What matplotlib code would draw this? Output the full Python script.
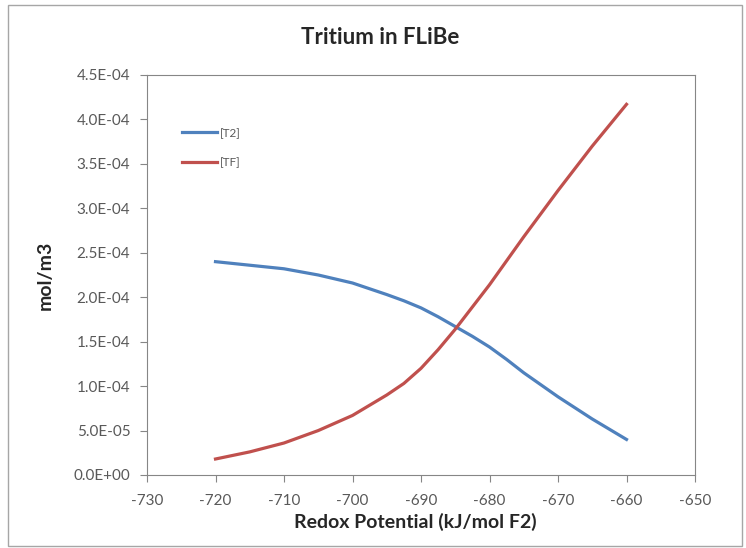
import matplotlib
matplotlib.use('Agg')
from matplotlib import pyplot as plt
from matplotlib.patches import Rectangle

# redox potential (kJ/mol F2)
x = [-720, -715, -710, -705, -700, -695, -692.5, -690, -687.5, -685, -682.5,
     -680, -677.5, -675, -670, -665, -660]
t2 = [2.40e-4, 2.36e-4, 2.32e-4, 2.25e-4, 2.16e-4, 2.03e-4, 1.96e-4, 1.88e-4,
      1.78e-4, 1.67e-4, 1.56e-4, 1.44e-4, 1.30e-4, 1.15e-4, 0.88e-4, 0.63e-4, 0.40e-4]
tf = [0.18e-4, 0.26e-4, 0.36e-4, 0.50e-4, 0.67e-4, 0.90e-4, 1.03e-4, 1.20e-4,
      1.41e-4, 1.64e-4, 1.89e-4, 2.14e-4, 2.41e-4, 2.68e-4, 3.20e-4, 3.70e-4, 4.17e-4]
yticks = [i * 0.5e-4 for i in range(10)]
xticks = list(range(-730, -649, 10))

plt.rcParams['font.family'] = ['Lato', 'DejaVu Sans']
plt.rcParams['axes.unicode_minus'] = False
gray = '#595959'

fig = plt.figure(figsize=(7.46, 5.48), dpi=100)
ax = fig.add_axes([147 / 746, 1 - 475 / 548, (695 - 147) / 746, (475 - 75) / 548])

ax.plot(x, t2, color='#4F81BD', lw=2.3, label='[T2]')
ax.plot(x, tf, color='#C0504D', lw=2.3, label='[TF]')

ax.set_xlim(-730, -650)
ax.set_ylim(0, 4.5e-4)
ax.set_xticks(xticks)
ax.set_yticks(yticks)
ax.set_yticklabels(['%.1E' % v for v in yticks])
ax.tick_params(direction='out', length=5, color='#868686', labelcolor=gray, labelsize=11)
ax.tick_params(axis='y', pad=7)
ax.tick_params(axis='x', pad=9)
for s in ax.spines.values():
    s.set_color('#868686')

ax.set_xlabel('Redox Potential (kJ/mol F2)', fontsize=14, fontweight='bold', color='#262626', va='center')
ax.set_ylabel('mol/m3', fontsize=14, fontweight='bold', color='#262626', va='center')
ax.xaxis.set_label_coords((415 - 147) / 548, (475 - 522) / 400)
ax.yaxis.set_label_coords((45 - 147) / 548, 0.5)
fig.text(0.51, 1 - 37 / 548, 'Tritium in FLiBe', ha='center', va='center',
         fontsize=16, fontweight='bold', color='#262626')

leg = ax.legend(loc='upper left', bbox_to_anchor=(0.045, 0.895), frameon=False,
                fontsize=8.5, handlelength=2.9, labelspacing=1.55, handletextpad=0.3)
for t in leg.get_texts():
    t.set_color(gray)

fig.patches.append(Rectangle((8 / 746, 2 / 548), 734 / 746, 541 / 548, transform=fig.transFigure,
                             fill=False, edgecolor='#a6a6a6', lw=1))

plt.savefig('out.png', dpi=100)
